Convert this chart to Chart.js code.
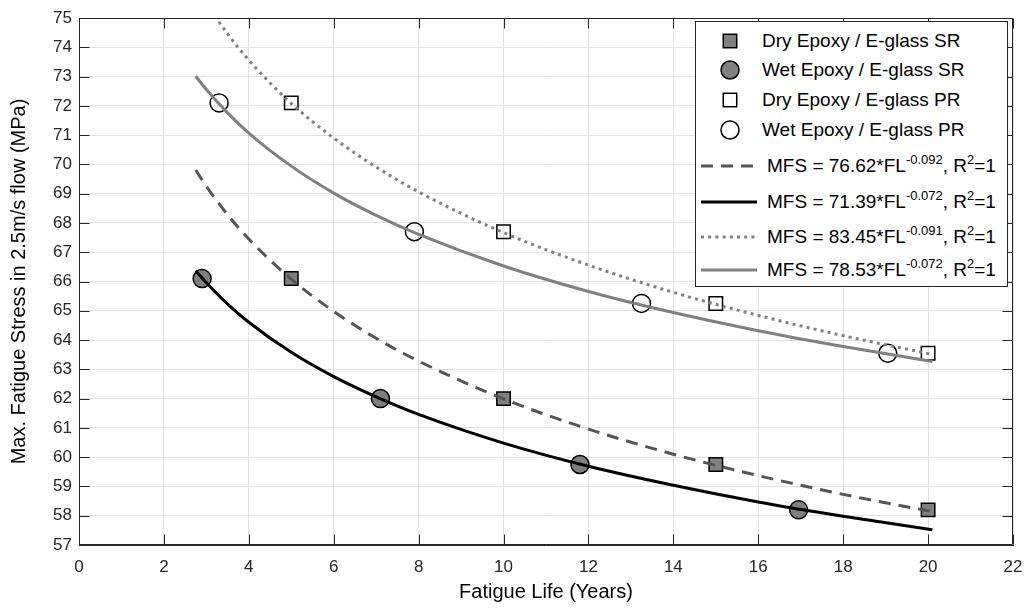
<!DOCTYPE html>
<html>
<head>
<meta charset="utf-8">
<script src="https://cdn.jsdelivr.net/npm/chart.js@4.4.1/dist/chart.umd.min.js"></script>
<style>
html,body{margin:0;padding:0;background:#fff;}
#wrap{position:relative;width:1026px;height:610px;}
#legend{position:absolute;left:695px;top:21px;width:313px;height:266px;border:1px solid #262626;background:#fff;box-sizing:border-box;font-family:"Liberation Sans",Arial,sans-serif;font-size:19px;color:#000;}
.row{position:absolute;left:0;height:24px;width:100%;}
.row svg{position:absolute;left:0;top:0;}
.row span{position:absolute;white-space:nowrap;line-height:24px;top:0;}
.row sup{font-size:13px;line-height:0;vertical-align:baseline;position:relative;top:-8px;}
</style>
</head>
<body>
<div id="wrap">
<canvas id="c" width="1026" height="610"></canvas>
<div id="legend"></div>
</div>
<script>
// ---- data ----
const drySR_x = [5, 10, 15, 20];
const drySR_y = [66.1, 62.0, 59.75, 58.2];
const wetSR_x = [2.9, 7.1, 11.8, 16.95];
const wetSR_y = [66.1, 62.0, 59.75, 58.2];
const dryPR_x = [5, 10, 15, 20];
const dryPR_y = [72.1, 67.7, 65.25, 63.55];
const wetPR_x = [3.3, 7.9, 13.25, 19.05];
const wetPR_y = [72.1, 67.7, 65.25, 63.55];

// fitted curves, values
const fit_x = [2.75, 3, 3.5, 4, 5, 6, 7, 8, 10, 12, 14, 16, 18, 20.1];
const fitDrySR_y = [69.81, 69.25, 68.28, 67.45, 66.08, 64.98, 64.06, 63.28, 61.99, 60.96, 60.10, 59.37, 58.73, 58.14];
const fitWetSR_y = [66.37, 65.96, 65.23, 64.61, 63.58, 62.75, 62.06, 61.46, 60.48, 59.69, 59.04, 58.47, 57.98, 57.52];
const fitDryPR_y = [76.12, 75.51, 74.46, 73.56, 72.08, 70.90, 69.91, 69.06, 67.67, 66.56, 65.63, 64.84, 64.15, 63.51];
const fitWetPR_y = [73.01, 72.56, 71.76, 71.07, 69.94, 69.02, 68.26, 67.61, 66.53, 65.66, 64.94, 64.32, 63.78, 63.27];

const xTicks = [0, 2, 4, 6, 8, 10, 12, 14, 16, 18, 20, 22];
const yTicks = [57, 58, 59, 60, 61, 62, 63, 64, 65, 66, 67, 68, 69, 70, 71, 72, 73, 74, 75];

const seriesLabels = [
  'Dry Epoxy / E-glass SR',
  'Wet Epoxy / E-glass SR',
  'Dry Epoxy / E-glass PR',
  'Wet Epoxy / E-glass PR',
  'MFS = 76.62*FL^{-0.092}, R^{2}=1',
  'MFS = 71.39*FL^{-0.072}, R^{2}=1',
  'MFS = 83.45*FL^{-0.091}, R^{2}=1',
  'MFS = 78.53*FL^{-0.072}, R^{2}=1'
];

const pts = (xs, ys) => xs.map((x, i) => ({x: x, y: ys[i]}));

const FONT = '"Liberation Sans", Arial, sans-serif';
const AX = '#262626';

function lineDs(label, ys, color, dash, legendOrder) {
  return {
    label: label, data: pts(fit_x, ys), showLine: true, borderColor: color,
    borderWidth: 3, borderDash: dash, borderCapStyle: 'butt', pointRadius: 0,
    cubicInterpolationMode: 'monotone', fill: false, clip: 0, legendOrder: legendOrder
  };
}
function markDs(label, xs, ys, style, fillC, legendOrder) {
  return {
    label: label, data: pts(xs, ys), showLine: false, pointStyle: style,
    pointRadius: style === 'rect' ? 9.5 : 9, pointBackgroundColor: fillC,
    pointBorderColor: '#000', pointBorderWidth: 1.5, clip: false, legendOrder: legendOrder
  };
}

const datasets = [
  lineDs(seriesLabels[4], fitDrySR_y, '#555555', [12, 8], 4),
  lineDs(seriesLabels[5], fitWetSR_y, '#000000', [], 5),
  lineDs(seriesLabels[6], fitDryPR_y, '#808080', [3, 4.2], 6),
  lineDs(seriesLabels[7], fitWetPR_y, '#808080', [], 7),
  markDs(seriesLabels[0], drySR_x, drySR_y, 'rect', '#808080', 0),
  markDs(seriesLabels[1], wetSR_x, wetSR_y, 'circle', '#808080', 1),
  markDs(seriesLabels[2], dryPR_x, dryPR_y, 'rect', 'rgba(0,0,0,0)', 2),
  markDs(seriesLabels[3], wetPR_x, wetPR_y, 'circle', 'rgba(0,0,0,0)', 3)
];

// box + inward ticks (MATLAB style)
const boxPlugin = {
  id: 'boxTicks',
  afterDatasetsDraw(chart) {
    const {ctx, chartArea: a, scales} = chart;
    const L = Math.round(a.left) + 0.5, R = Math.round(a.right) - 0.5;
    const T = Math.round(a.top) + 0.5, B = Math.round(a.bottom) - 0.5;
    ctx.save();
    ctx.strokeStyle = AX; ctx.lineWidth = 1;
    ctx.beginPath();
    ctx.rect(L, T, R - L, B - T);
    const tl = 10;
    xTicks.forEach(v => {
      const px = Math.round(scales.x.getPixelForValue(v)) + 0.5;
      ctx.moveTo(px, B); ctx.lineTo(px, B - tl);
      ctx.moveTo(px, T); ctx.lineTo(px, T + tl);
    });
    yTicks.forEach(v => {
      const py = Math.round(scales.y.getPixelForValue(v)) + 0.5;
      ctx.moveTo(L, py); ctx.lineTo(L + tl, py);
      ctx.moveTo(R, py); ctx.lineTo(R - tl, py);
    });
    ctx.stroke();
    ctx.restore();
  }
};

// HTML legend built from the datasets
function labelHtml(s) {
  return s.replace(/\^\{([^}]*)\}/g, '<sup>$1</sup>');
}
const legendPlugin = {
  id: 'htmlLegend',
  afterUpdate(chart) {
    const box = document.getElementById('legend');
    box.innerHTML = '';
    const rowsY = [19, 48, 78, 108, 144, 180, 215, 248];
    const items = chart.data.datasets.slice().sort((p, q) => p.legendOrder - q.legendOrder);
    items.forEach((ds, i) => {
      const row = document.createElement('div');
      row.className = 'row';
      row.style.top = (rowsY[i] - 12) + 'px';
      const ns = 'http://www.w3.org/2000/svg';
      const svg = document.createElementNS(ns, 'svg');
      svg.setAttribute('width', '66'); svg.setAttribute('height', '24');
      let el;
      if (ds.showLine) {
        el = document.createElementNS(ns, 'line');
        el.setAttribute('x1', '5'); el.setAttribute('x2', '61');
        el.setAttribute('y1', '12'); el.setAttribute('y2', '12');
        el.setAttribute('stroke', ds.borderColor);
        el.setAttribute('stroke-width', ds.borderWidth);
        if (ds.borderDash.length) el.setAttribute('stroke-dasharray', ds.borderDash.join(' '));
      } else if (ds.pointStyle === 'rect') {
        const s = ds.pointRadius * Math.SQRT2;
        el = document.createElementNS(ns, 'rect');
        el.setAttribute('x', 34 - s / 2); el.setAttribute('y', 12 - s / 2);
        el.setAttribute('width', s); el.setAttribute('height', s);
      } else {
        el = document.createElementNS(ns, 'circle');
        el.setAttribute('cx', '34'); el.setAttribute('cy', '12'); el.setAttribute('r', ds.pointRadius);
      }
      if (!ds.showLine) {
        el.setAttribute('fill', ds.pointBackgroundColor === 'rgba(0,0,0,0)' ? 'none' : ds.pointBackgroundColor);
        el.setAttribute('stroke', ds.pointBorderColor);
        el.setAttribute('stroke-width', ds.pointBorderWidth);
      }
      svg.appendChild(el);
      row.appendChild(svg);
      const sp = document.createElement('span');
      sp.style.left = (ds.showLine ? 71 : 66) + 'px';
      sp.innerHTML = labelHtml(ds.label);
      row.appendChild(sp);
      box.appendChild(row);
    });
  }
};

new Chart(document.getElementById('c'), {
  type: 'scatter',
  data: {datasets: datasets},
  plugins: [boxPlugin, legendPlugin],
  options: {
    responsive: false,
    animation: false,
    events: [],
    layout: {padding: {top: 18, right: 13, left: 0, bottom: 0}},
    plugins: {legend: {display: false}, tooltip: {enabled: false}},
    scales: {
      x: {
        type: 'linear', min: 0, max: 22,
        afterFit(s) { s.height = 65; s.paddingLeft = 0; s.paddingRight = 0; },
        afterBuildTicks(s) { s.ticks = xTicks.map(v => ({value: v})); },
        ticks: {color: AX, font: {family: FONT, size: 17}, padding: 12, maxRotation: 0, autoSkip: false},
        grid: {color: '#e1e1e1', lineWidth: 1, drawTicks: false},
        border: {display: true, color: AX},
        title: {display: true, text: 'Fatigue Life (Years)', color: '#000', font: {family: FONT, size: 20}, padding: {top: 0, bottom: 6}}
      },
      y: {
        type: 'linear', min: 57, max: 75,
        afterFit(s) { s.width = 79; s.paddingTop = 0; s.paddingBottom = 0; },
        afterBuildTicks(s) { s.ticks = yTicks.map(v => ({value: v})); },
        ticks: {color: AX, font: {family: FONT, size: 17}, padding: 7, autoSkip: false},
        grid: {color: '#e1e1e1', lineWidth: 1, drawTicks: false},
        border: {display: true, color: AX},
        title: {display: true, text: 'Max. Fatigue Stress in 2.5m/s flow (MPa)', color: '#000', font: {family: FONT, size: 20}, padding: {top: 7, bottom: 0}}
      }
    }
  }
});
</script>
</body>
</html>
